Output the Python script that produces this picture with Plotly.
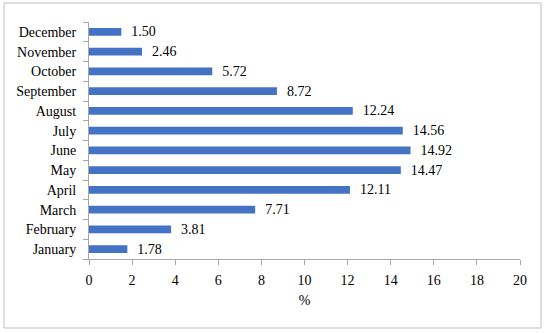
import plotly.graph_objects as go

months = ["January", "February", "March", "April", "May", "June", "July",
          "August", "September", "October", "November", "December"]
values = [1.78, 3.81, 7.71, 12.11, 14.47, 14.92, 14.56, 12.24, 8.72, 5.72, 2.46, 1.50]
labels = ["\u00a0\u00a0%.2f" % v for v in values]
x_ticks = list(range(0, 21, 2))

FONT = "Liberation Serif"

fig = go.Figure(go.Bar(
    x=values, y=months, orientation="h",
    marker=dict(color="#4472C4", line=dict(width=0)),
    text=labels, textposition="outside", cliponaxis=False,
    constraintext="none",
    textfont=dict(family=FONT, size=14, color="#000000"),
))

fig.update_layout(
    width=550, height=333,
    margin=dict(l=89, r=30, t=22, b=74),
    paper_bgcolor="white", plot_bgcolor="white",
    bargap=0.6,
    showlegend=False,
    font=dict(family=FONT, size=14, color="#000000"),
    xaxis=dict(range=[0, 20], tickvals=x_ticks, showgrid=False, zeroline=False,
               showline=True, linecolor="#A6A6A6", linewidth=1,
               ticks="outside", ticklen=5, tickcolor="#A6A6A6",
               ticklabelstandoff=3, automargin=False,
               title=dict(text="%", standoff=8, font=dict(family=FONT, size=14))),
    yaxis=dict(categoryorder="array", categoryarray=months, showgrid=False,
               zeroline=False, showline=True, linecolor="#A6A6A6", linewidth=1,
               ticks="outside", ticklen=5, tickcolor="#A6A6A6",
               tickson="boundaries", ticklabelstandoff=9, automargin=False),
    shapes=[dict(type="rect", xref="paper", yref="paper",
                 x0=(4 - 89) / 431, x1=(541 - 89) / 431,
                 y0=(259 - 328) / 237, y1=(259 - 3) / 237,
                 line=dict(color="#BFBFBF", width=1), layer="below")],
)

fig.write_html("out.html", config={"displayModeBar": False},
               post_script="document.body.style.margin='0';")
